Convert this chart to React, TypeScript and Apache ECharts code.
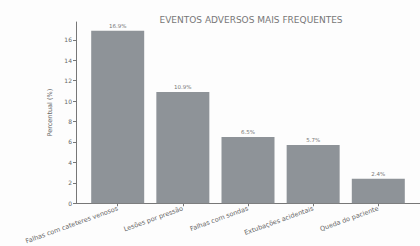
import React, { useEffect, useRef } from "react";
import * as echarts from "echarts";

const categories = [
  "Falhas com cateteres venosos",
  "Lesões por pressão",
  "Falhas com sondas",
  "Extubações acidentais",
  "Queda do paciente",
];
const values = [16.9, 10.9, 6.5, 5.7, 2.4];
const yTicks = [0, 2, 4, 6, 8, 10, 12, 14, 16];

export default function App() {
  const ref = useRef<HTMLDivElement>(null);
  useEffect(() => {
    const chart = echarts.init(ref.current!, null, { renderer: "svg" });
    const font = "DejaVu Sans";
    chart.setOption({
      animation: false,
      backgroundColor: "#fdfdfd",
      title: {
        text: "EVENTOS ADVERSOS MAIS FREQUENTES",
        left: 246,
        top: 10,
        textAlign: "center",
        textStyle: { fontFamily: font, fontSize: 9, fontWeight: "normal", color: "#777" },
      },
      grid: { left: 76, right: -4, top: 22, bottom: 42 },
      xAxis: {
        type: "value",
        min: -0.64,
        max: 4.64,
        splitLine: { show: false },
        axisLine: { show: true, onZero: false, lineStyle: { color: "#777", width: 1 } },
        axisTick: { show: true, customValues: [0, 1, 2, 3, 4], length: 3, lineStyle: { color: "#777" } },
        axisLabel: {
          customValues: [0, 1, 2, 3, 4],
          formatter: (v: number) => categories[Math.round(v)] ?? "",
          rotate: 20,
          fontFamily: font,
          fontSize: 6.5,
          color: "#666",
          margin: 5,
        },
      },
      yAxis: {
        type: "value",
        min: 0,
        max: 17.75,
        name: "Percentual (%)",
        nameLocation: "middle",
        nameGap: 15,
        nameTextStyle: { fontFamily: font, fontSize: 6.5, color: "#666" },
        splitLine: { show: false },
        axisLine: { show: true, onZero: false, lineStyle: { color: "#777", width: 1 } },
        axisTick: { show: true, customValues: yTicks, length: 3, lineStyle: { color: "#777" } },
        axisLabel: {
          customValues: yTicks,
          fontFamily: font,
          fontSize: 6,
          color: "#666",
          margin: 4,
        },
      },
      series: [
        {
          type: "bar",
          data: values.map((v, i) => [i, v]),
          barWidth: 53,
          itemStyle: { color: "#8e9398" },
          label: {
            show: true,
            position: "top",
            distance: 2,
            formatter: (p: any) => p.value[1].toFixed(1) + "%",
            fontFamily: font,
            fontSize: 5.5,
            color: "#777",
          },
        },
      ],
    });
    return () => chart.dispose();
  }, []);
  return <div ref={ref} style={{ width: 420, height: 246, position: "absolute", left: 0, top: 0 }} />;
}
